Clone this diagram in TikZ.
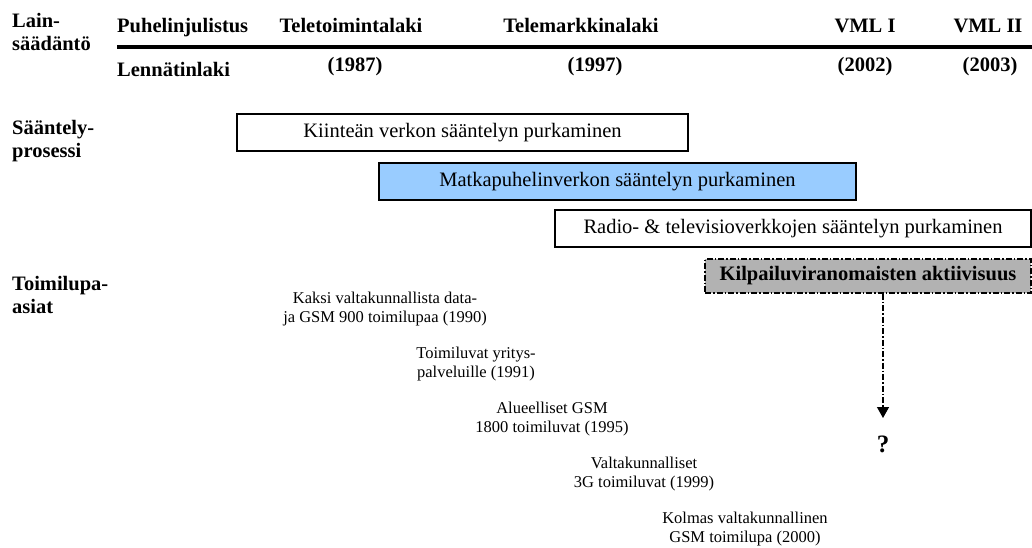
\documentclass[tikz,border=0pt]{standalone}
\usepackage{fontspec}
\setmainfont{Liberation Serif}
\usetikzlibrary{arrows.meta}
\definecolor{mobileblue}{HTML}{99CCFF}
\definecolor{authgray}{HTML}{B2B2B2}
\tikzset{
  rowhead/.style={font=\fontsize{20.5}{23}\selectfont\bfseries, align=left, anchor=west, inner sep=0pt},
  lawname/.style={font=\fontsize{20.5}{23}\selectfont\bfseries, anchor=base, inner sep=0pt},
  lawyear/.style={font=\fontsize{20.5}{23}\selectfont\bfseries, anchor=base, inner sep=0pt},
  phase/.style={draw=black, line width=1.2pt, font=\fontsize{20.5}{23}\selectfont, inner sep=0pt},
  licence/.style={font=\fontsize{16.5}{19}\selectfont, align=center, inner sep=0pt},
  dashdot/.style={dash pattern=on 6pt off 2pt on 1.5pt off 2pt},
}
\begin{document}
\begin{tikzpicture}[x=1pt, y=-1pt]
\useasboundingbox (0,0) rectangle (1032,548);

% row headings
\node[rowhead] (lain) at (12,32) {Lain-\\säädäntö};
\node[rowhead] (saant) at (12,141) {Sääntely-\\prosessi};
\node[rowhead] (toim) at (12,295) {Toimilupa-\\asiat};

% legislation timeline
\node[lawname, anchor=base west] (puh) at (117,33) {Puhelinjulistus};
\node[lawname] (tele) at (351,33) {Teletoimintalaki};
\node[lawname] (tmark) at (581,33) {Telemarkkinalaki};
\node[lawname] (vml1) at (865,33) {VML I};
\node[lawname] (vml2) at (988,33) {VML II};
\coordinate (axisL) at (117,47);
\coordinate (axisR) at (1032,47);
\draw[line width=4pt] (axisL) -- (axisR);
\node[lawyear, anchor=base west] (lenn) at (117,77) {Lennätinlaki};
\node[lawyear] (y87) at (355,72) {(1987)};
\node[lawyear] (y97) at (595,72) {(1997)};
\node[lawyear] (y02) at (865,72) {(2002)};
\node[lawyear] (y03) at (990,72) {(2003)};

% deregulation phases
\node[phase, minimum width=451pt, minimum height=37pt] (fixed) at (462.5,132.5) {Kiinteän verkon sääntelyn purkaminen};
\node[phase, fill=mobileblue, minimum width=477pt, minimum height=37pt] (mobile) at (617.5,181.5) {Matkapuhelinverkon sääntelyn purkaminen};
\node[phase, minimum width=476pt, minimum height=37pt] (radio) at (793,228.5) {Radio- \& televisioverkkojen sääntelyn purkaminen};
\node[phase, fill=authgray, dashdot, font=\fontsize{20.5}{23}\selectfont\bfseries, minimum width=326pt, minimum height=34pt] (act) at (868,276) {Kilpailuviranomaisten aktiivisuus};

% outcome
\node[font=\fontsize{25}{28}\selectfont\bfseries, inner sep=0pt, anchor=base] (qm) at (883,452) {?};
\coordinate (tip) at (883,418);
\draw[line width=1.2pt, dashdot, -{Triangle[length=11pt,width=12pt]}] (act.south -| tip) -- (tip);

% licences
\node[licence] (l90) at (385,309.5) {Kaksi valtakunnallista data-\\ja GSM 900 toimilupaa (1990)};
\node[licence] (l91) at (476,364.5) {Toimiluvat yritys-\\palveluille (1991)};
\node[licence] (l95) at (552,419.5) {Alueelliset GSM\\1800 toimiluvat (1995)};
\node[licence] (l99) at (644,474.5) {Valtakunnalliset\\3G toimiluvat (1999)};
\node[licence] (l00) at (745,529.5) {Kolmas valtakunnallinen\\GSM toimilupa (2000)};
\end{tikzpicture}
\end{document}
